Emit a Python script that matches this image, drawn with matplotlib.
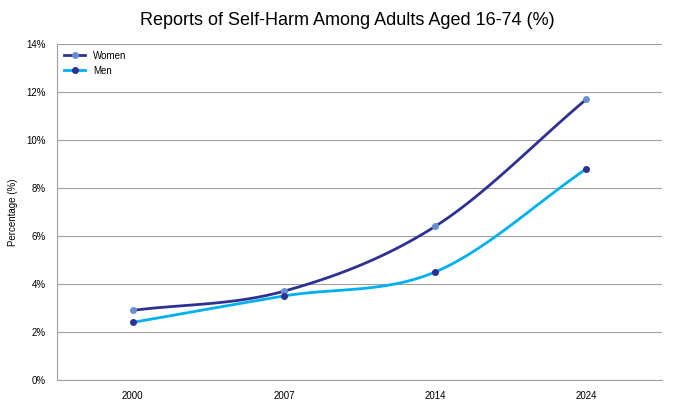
import matplotlib.pyplot as plt
import numpy as np

years = ["2000", "2007", "2014", "2024"]
women = [2.9, 3.7, 6.4, 11.7]
men = [2.4, 3.5, 4.5, 8.8]
yticks = [0, 2, 4, 6, 8, 10, 12, 14]


def smooth(xs, ys, n=40):
    # Catmull-Rom style curve through the points, like Excel smoothed lines
    xs = np.asarray(xs, float)
    ys = np.asarray(ys, float)
    px = np.concatenate([[2 * xs[0] - xs[1]], xs, [2 * xs[-1] - xs[-2]]])
    py = np.concatenate([[2 * ys[0] - ys[1]], ys, [2 * ys[-1] - ys[-2]]])
    outx, outy = [], []
    for i in range(1, len(px) - 2):
        t = np.linspace(0, 1, n)
        for p, out in ((px, outx), (py, outy)):
            p0, p1, p2, p3 = p[i - 1], p[i], p[i + 1], p[i + 2]
            out.extend(0.5 * (2 * p1 + (-p0 + p2) * t
                              + (2 * p0 - 5 * p1 + 4 * p2 - p3) * t ** 2
                              + (-p0 + 3 * p1 - 3 * p2 + p3) * t ** 3))
    return outx, outy


plt.rcParams["font.family"] = "Liberation Sans"
fig = plt.figure(figsize=(6.95, 4.07), dpi=100)
ax = fig.add_axes([57 / 695, 27 / 407, 605 / 695, 336 / 407])

x = list(range(len(years)))
sx, sy = smooth(x, women)
ax.plot(sx, sy, color="#2e3192", lw=2)
ax.plot(x, women, "o", color="#6a8fd0", ms=4)
sx, sy = smooth(x, men)
ax.plot(sx, sy, color="#00b0f0", lw=2)
ax.plot(x, men, "o", color="#2e3192", ms=4)

ax.plot([], [], "-o", color="#2e3192", mfc="#6a8fd0", mec="#6a8fd0", ms=4, lw=2, label="Women")
ax.plot([], [], "-o", color="#00b0f0", mfc="#2e3192", mec="#2e3192", ms=4, lw=2, label="Men")
ax.legend(loc="upper left", frameon=False, fontsize=7, handlelength=2.2,
          borderaxespad=0.3, labelspacing=0.5)

ax.set_xlim(-0.5, 3.5)
ax.set_ylim(0, 14)
ax.set_xticks(x)
ax.set_xticklabels(years, fontsize=7)
ax.set_yticks(yticks)
ax.set_yticklabels([f"{v}%" for v in yticks], fontsize=7)
ax.tick_params(length=0, pad=8)
ax.grid(True, axis="y", color="#a0a0a0", lw=0.8)
ax.set_axisbelow(True)
for side in ["top", "right"]:
    ax.spines[side].set_visible(False)
ax.spines["left"].set_color("#a0a0a0")
ax.spines["bottom"].set_color("#a0a0a0")
ax.set_ylabel("Percentage (%)", fontsize=7, labelpad=6)
fig.suptitle("Reports of Self-Harm Among Adults Aged 16-74 (%)", fontsize=13, y=0.97)

fig.savefig("out.png", dpi=100)
plt.close(fig)
